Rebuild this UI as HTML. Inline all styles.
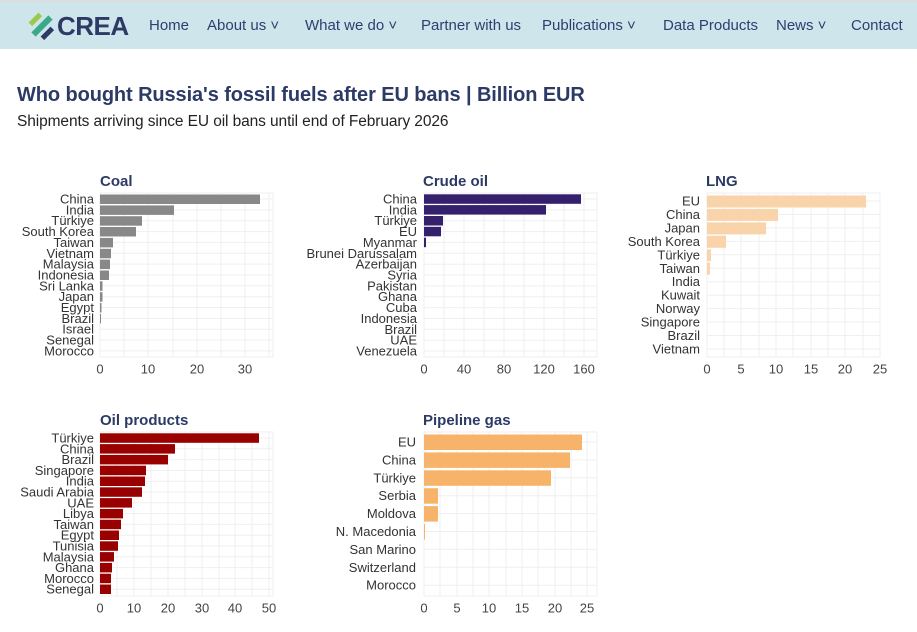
<!DOCTYPE html>
<html><head><meta charset="utf-8"><style>
body{margin:0;width:917px;height:632px;background:#fff;font-family:"Liberation Sans",sans-serif;overflow:hidden;position:relative}
.top{position:absolute;left:0;top:0;width:917px;height:2px;background:#ddd}
.nav{position:absolute;left:0;top:2px;width:917px;height:47px;background:#cde5eb}
.nav span{position:absolute;top:15px;font-size:15px;color:#2d3f6e}
.logo{position:absolute;left:57px;top:9px;font-size:26px;font-weight:bold;color:#2c3a66;letter-spacing:-0.5px}
h1{position:absolute;left:17px;top:84px;margin:0;font-size:20px;color:#2c3a66;font-weight:bold;letter-spacing:-0.1px}
.sub{position:absolute;left:17px;top:113px;font-size:15.5px;color:#222;letter-spacing:-0.1px}
svg{position:absolute;left:0;top:0}
</style></head><body>
<div class="top"></div>
<div class="nav">
<svg width="30" height="30" style="left:28px;top:9px"><rect x="2" y="12" width="24" height="6" fill="#3aa98a" transform="rotate(-45 14 15)"/><rect x="0" y="6" width="14" height="5" fill="#9dc84b" transform="rotate(-45 7 8)"/><rect x="12" y="20" width="14" height="5" fill="#2c3a66" transform="rotate(-45 19 22)"/></svg>
<div class="logo">CREA</div>
<span style="left:149px">Home</span><span style="left:207px">About us ˅</span><span style="left:305px">What we do ˅</span><span style="left:421px">Partner with us</span><span style="left:542px">Publications ˅</span><span style="left:663px">Data Products</span><span style="left:776px">News ˅</span><span style="left:851px">Contact</span>
</div>
<h1>Who bought Russia's fossil fuels after EU bans | Billion EUR</h1>
<div class="sub">Shipments arriving since EU oil bans until end of February 2026</div>
<svg width="917" height="632" font-family="Liberation Sans, sans-serif">
<g font-size="15" font-weight="bold" fill="#2c3a66">
<text x="100" y="186">Coal</text><text x="423" y="186">Crude oil</text><text x="706" y="186">LNG</text>
<text x="100" y="425">Oil products</text><text x="423" y="425">Pipeline gas</text></g>
<g stroke="#efefef" stroke-width="1" fill="none">
<rect x="100" y="193" width="173" height="164"/>
<path d="M124 193V357M148 193V357M173 193V357M197 193V357M221 193V357M245 193V357M269 193V357"/>
<path d="M100 199H273M100 209.9H273M100 220.7H273M100 231.6H273M100 242.4H273M100 253.3H273M100 264.1H273M100 275H273M100 285.8H273M100 296.7H273M100 307.5H273M100 318.4H273M100 329.2H273M100 340H273M100 350.9H273"/>
<rect x="424" y="193" width="173" height="164"/>
<path d="M444 193V357M464 193V357M484 193V357M504 193V357M524 193V357M544 193V357M564 193V357M584 193V357"/>
<path d="M424 199H597M424 209.9H597M424 220.7H597M424 231.6H597M424 242.4H597M424 253.3H597M424 264.2H597M424 275H597M424 285.9H597M424 296.7H597M424 307.6H597M424 318.5H597M424 329.3H597M424 340.2H597M424 351H597"/>
<rect x="707" y="193" width="173" height="164"/>
<path d="M724 193V357M741 193V357M759 193V357M776 193V357M793 193V357M811 193V357M828 193V357M845 193V357M863 193V357M880 193V357"/>
<path d="M707 201H880M707 214.5H880M707 227.9H880M707 241.4H880M707 254.8H880M707 268.3H880M707 281.7H880M707 295.2H880M707 308.6H880M707 322H880M707 335.5H880M707 349H880"/>
<rect x="100" y="432" width="173" height="164"/>
<path d="M117 432V596M134 432V596M151 432V596M168 432V596M185 432V596M202 432V596M219 432V596M235 432V596M252 432V596M269 432V596"/>
<path d="M100 438H273M100 448.8H273M100 459.6H273M100 470.4H273M100 481.2H273M100 492H273M100 502.8H273M100 513.6H273M100 524.4H273M100 535.2H273M100 546H273M100 556.8H273M100 567.6H273M100 578.4H273M100 589.2H273"/>
<rect x="424" y="432" width="173" height="164"/>
<path d="M440 432V596M457 432V596M473 432V596M489 432V596M506 432V596M522 432V596M538 432V596M555 432V596M571 432V596M587 432V596"/>
<path d="M424 442H597M424 459.9H597M424 477.8H597M424 495.7H597M424 513.6H597M424 531.5H597M424 549.4H597M424 567.3H597M424 585.2H597"/>
</g>
<g fill="#888">
<rect x="100" y="194.5" width="160" height="9.5"/><rect x="100" y="205.4" width="74" height="9.5"/><rect x="100" y="216.2" width="42" height="9.5"/><rect x="100" y="227" width="36" height="9.5"/><rect x="100" y="237.9" width="13" height="9.5"/><rect x="100" y="248.8" width="11" height="9.5"/><rect x="100" y="259.6" width="10" height="9.5"/><rect x="100" y="270.5" width="9" height="9.5"/><rect x="100" y="281.3" width="2.5" height="9.5"/><rect x="100" y="292.2" width="2.5" height="9.5"/><rect x="100" y="303" width="1.5" height="9.5"/><rect x="100" y="313.9" width="1" height="9.5"/></g>
<g fill="#35206e">
<rect x="424" y="194.3" width="157" height="9.5"/><rect x="424" y="205.1" width="122" height="9.5"/><rect x="424" y="216" width="19" height="9.5"/><rect x="424" y="226.8" width="17" height="9.5"/><rect x="424" y="237.7" width="2" height="9.5"/></g>
<g fill="#f9d3a9">
<rect x="707" y="195.5" width="159" height="12"/><rect x="707" y="208.9" width="71" height="12"/><rect x="707" y="222.4" width="59" height="12"/><rect x="707" y="235.8" width="19" height="12"/><rect x="707" y="249.3" width="4" height="12"/><rect x="707" y="262.7" width="3" height="12"/></g>
<g fill="#990000">
<rect x="100" y="433.3" width="159" height="9.5"/><rect x="100" y="444.1" width="75" height="9.5"/><rect x="100" y="454.9" width="68" height="9.5"/><rect x="100" y="465.7" width="46" height="9.5"/><rect x="100" y="476.5" width="45" height="9.5"/><rect x="100" y="487.3" width="42" height="9.5"/><rect x="100" y="498.1" width="32" height="9.5"/><rect x="100" y="508.9" width="23" height="9.5"/><rect x="100" y="519.7" width="21" height="9.5"/><rect x="100" y="530.5" width="19" height="9.5"/><rect x="100" y="541.3" width="18" height="9.5"/><rect x="100" y="552.1" width="14" height="9.5"/><rect x="100" y="562.9" width="12" height="9.5"/><rect x="100" y="573.7" width="11" height="9.5"/><rect x="100" y="584.5" width="11" height="9.5"/></g>
<g fill="#f7b36a">
<rect x="424" y="434.5" width="158" height="15.5"/><rect x="424" y="452.4" width="146" height="15.5"/><rect x="424" y="470.3" width="127" height="15.5"/><rect x="424" y="488.2" width="14" height="15.5"/><rect x="424" y="506.1" width="14" height="15.5"/><rect x="424" y="524" width="1" height="15.5"/></g>
<g font-size="13" fill="#333" text-anchor="end" dominant-baseline="central">
<text x="94" y="199">China</text><text x="94" y="209.9">India</text><text x="94" y="220.7">Türkiye</text><text x="94" y="231.6">South Korea</text><text x="94" y="242.4">Taiwan</text><text x="94" y="253.3">Vietnam</text><text x="94" y="264.1">Malaysia</text><text x="94" y="275">Indonesia</text><text x="94" y="285.8">Sri Lanka</text><text x="94" y="296.7">Japan</text><text x="94" y="307.5">Egypt</text><text x="94" y="318.4">Brazil</text><text x="94" y="329.2">Israel</text><text x="94" y="340">Senegal</text><text x="94" y="350.9">Morocco</text>
<text x="417" y="199">China</text><text x="417" y="209.9">India</text><text x="417" y="220.7">Türkiye</text><text x="417" y="231.6">EU</text><text x="417" y="242.4">Myanmar</text><text x="417" y="253.3">Brunei Darussalam</text><text x="417" y="264.2">Azerbaijan</text><text x="417" y="275">Syria</text><text x="417" y="285.9">Pakistan</text><text x="417" y="296.7">Ghana</text><text x="417" y="307.6">Cuba</text><text x="417" y="318.5">Indonesia</text><text x="417" y="329.3">Brazil</text><text x="417" y="340.2">UAE</text><text x="417" y="351">Venezuela</text>
<text x="700" y="201">EU</text><text x="700" y="214.5">China</text><text x="700" y="227.9">Japan</text><text x="700" y="241.4">South Korea</text><text x="700" y="254.8">Türkiye</text><text x="700" y="268.3">Taiwan</text><text x="700" y="281.7">India</text><text x="700" y="295.2">Kuwait</text><text x="700" y="308.6">Norway</text><text x="700" y="322">Singapore</text><text x="700" y="335.5">Brazil</text><text x="700" y="349">Vietnam</text>
<text x="94" y="438">Türkiye</text><text x="94" y="448.8">China</text><text x="94" y="459.6">Brazil</text><text x="94" y="470.4">Singapore</text><text x="94" y="481.2">India</text><text x="94" y="492">Saudi Arabia</text><text x="94" y="502.8">UAE</text><text x="94" y="513.6">Libya</text><text x="94" y="524.4">Taiwan</text><text x="94" y="535.2">Egypt</text><text x="94" y="546">Tunisia</text><text x="94" y="556.8">Malaysia</text><text x="94" y="567.6">Ghana</text><text x="94" y="578.4">Morocco</text><text x="94" y="589.2">Senegal</text>
<text x="416" y="442">EU</text><text x="416" y="459.9">China</text><text x="416" y="477.8">Türkiye</text><text x="416" y="495.7">Serbia</text><text x="416" y="513.6">Moldova</text><text x="416" y="531.5">N. Macedonia</text><text x="416" y="549.4">San Marino</text><text x="416" y="567.3">Switzerland</text><text x="416" y="585.2">Morocco</text>
</g>
<g font-size="13" fill="#444" text-anchor="middle" dominant-baseline="central">
<text x="100" y="369">0</text><text x="148" y="369">10</text><text x="197" y="369">20</text><text x="245" y="369">30</text>
<text x="424" y="369">0</text><text x="464" y="369">40</text><text x="504" y="369">80</text><text x="544" y="369">120</text><text x="584" y="369">160</text>
<text x="707" y="369">0</text><text x="741" y="369">5</text><text x="776" y="369">10</text><text x="811" y="369">15</text><text x="845" y="369">20</text><text x="880" y="369">25</text>
<text x="100" y="608">0</text><text x="134" y="608">10</text><text x="168" y="608">20</text><text x="202" y="608">30</text><text x="235" y="608">40</text><text x="269" y="608">50</text>
<text x="424" y="608">0</text><text x="457" y="608">5</text><text x="489" y="608">10</text><text x="522" y="608">15</text><text x="555" y="608">20</text><text x="587" y="608">25</text>
</g>
</svg>
</body></html>
